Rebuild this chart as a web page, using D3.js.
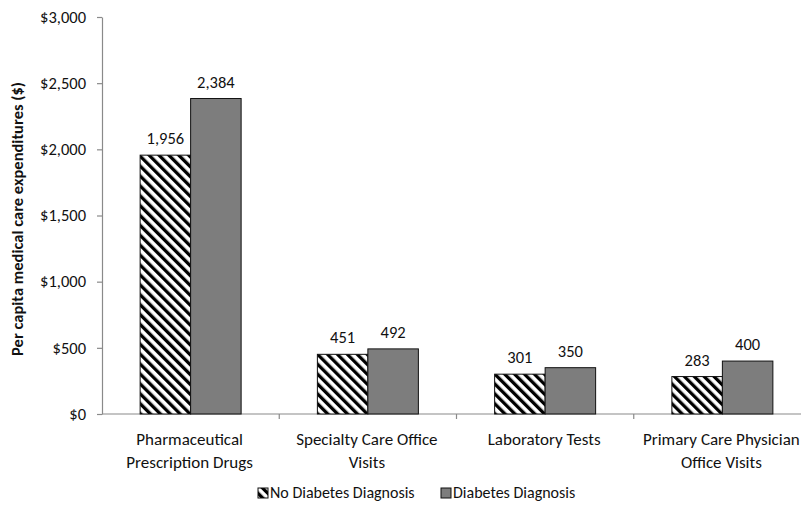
<!DOCTYPE html>
<html>
<head>
<meta charset="utf-8">
<script src="https://cdn.jsdelivr.net/npm/d3@7"></script>
<style>
  html, body { margin: 0; padding: 0; background: #fff; }
  svg text { font-family: Carlito, Lato, "Open Sans", sans-serif; fill: #111; }
</style>
</head>
<body>
<svg id="chart" width="801" height="505"></svg>
<script>
// Per capita medical care expenditures by service type
const categories = [
  ["Pharmaceutical", "Prescription Drugs"],
  ["Specialty Care Office", "Visits"],
  ["Laboratory Tests"],
  ["Primary Care Physician", "Office Visits"]
];
const seriesNames = ["No Diabetes Diagnosis", "Diabetes Diagnosis"];
const noDiabetes = [1956, 451, 301, 283];
const diabetes = [2384, 492, 350, 400];
const yTicks = [0, 500, 1000, 1500, 2000, 2500, 3000];

const svg = d3.select("#chart");
const defs = svg.append("defs");

// diagonal hatch (top-left to bottom-right) for the "no diagnosis" series
const hatch = defs.append("pattern")
  .attr("id", "hatch")
  .attr("patternUnits", "userSpaceOnUse")
  .attr("width", 7).attr("height", 7)
  .attr("patternTransform", "rotate(-45)");
hatch.append("rect").attr("width", 7).attr("height", 7).attr("fill", "#fff");
hatch.append("rect").attr("x", 0).attr("y", 0).attr("width", 3.3).attr("height", 7).attr("fill", "#000");

const plotLeft = 102, plotBottom = 414, plotTop = 17, plotRight = 811;
const keys = categories.map((d, i) => i);

const x0 = d3.scaleBand().domain(keys).range([plotLeft, plotRight]).padding(0);
const groupW = 101;
const x1 = d3.scaleBand().domain([0, 1]).range([0, groupW]).padding(0);
const y = d3.scaleLinear().domain([0, 3000]).range([plotBottom, plotTop]);

// y axis
const yAxis = svg.append("g")
  .attr("transform", `translate(${plotLeft},0)`)
  .call(d3.axisLeft(y).tickValues(yTicks).tickSize(5).tickSizeOuter(0)
    .tickFormat(d => "$" + d3.format(",")(d)));
yAxis.select(".domain").attr("stroke", "#8a8a8a").attr("stroke-width", 1.2);
yAxis.selectAll(".tick line").attr("stroke", "#8a8a8a").attr("stroke-width", 1.2);
yAxis.selectAll(".tick text").attr("x", -16).attr("font-size", 16.5)
  .style("font-family", "Carlito, Lato, sans-serif").attr("fill", "#111");

// x axis
const xAxis = svg.append("g")
  .attr("transform", `translate(0,${plotBottom})`);
xAxis.append("line").attr("x1", plotLeft).attr("x2", 801).attr("y1", 0).attr("y2", 0)
  .attr("stroke", "#8a8a8a").attr("stroke-width", 1.2);
xAxis.selectAll("line.tk").data(keys.slice(1).concat([keys.length]))
  .enter().append("line").attr("class", "tk")
  .attr("x1", d => plotLeft + d * x0.step()).attr("x2", d => plotLeft + d * x0.step())
  .attr("y1", 0).attr("y2", 5)
  .attr("stroke", "#8a8a8a").attr("stroke-width", 1.2);

const groups = svg.append("g").selectAll("g.cat").data(keys).enter().append("g")
  .attr("transform", d => `translate(${x0(d) + (x0.bandwidth() - groupW) / 2},0)`);

const seriesVals = [noDiabetes, diabetes];
const fills = ["url(#hatch)", "#7d7d7d"];

groups.each(function(ci) {
  const g = d3.select(this);
  [0, 1].forEach(si => {
    const v = seriesVals[si][ci];
    g.append("rect")
      .attr("x", x1(si)).attr("y", y(v))
      .attr("width", x1.bandwidth()).attr("height", y(0) - y(v))
      .attr("fill", fills[si]).attr("stroke", "#111").attr("stroke-width", 1);
    g.append("text")
      .attr("x", x1(si) + x1.bandwidth() / 2).attr("y", y(v) - 11)
      .attr("text-anchor", "middle").attr("font-size", 16.5)
      .text(d3.format(",")(v));
  });
});

// category labels
const labels = svg.append("g").selectAll("text.cat").data(keys).enter().append("text")
  .attr("class", "cat")
  .attr("text-anchor", "middle").attr("font-size", 17)
  .attr("x", d => x0(d) + x0.bandwidth() / 2 - 1)
  .attr("y", 445);
labels.each(function(ci) {
  const t = d3.select(this);
  categories[ci].forEach((line, li) => {
    t.append("tspan").attr("x", x0(ci) + x0.bandwidth() / 2 - 1)
      .attr("dy", li === 0 ? 0 : 23).text(line);
  });
});

// y axis title
svg.append("text")
  .attr("transform", "translate(23,219) rotate(-90)")
  .attr("text-anchor", "middle").attr("font-size", 16.5).attr("font-weight", "bold")
  .text("Per capita medical care expenditures ($)");

// legend
const legend = svg.append("g");
const legendX = [258, 441];
seriesNames.forEach((name, i) => {
  legend.append("rect").attr("x", legendX[i]).attr("y", 488)
    .attr("width", 10).attr("height", 10)
    .attr("fill", fills[i]).attr("stroke", "#111").attr("stroke-width", 1);
  legend.append("text").attr("x", legendX[i] + 12).attr("y", 498)
    .attr("font-size", 16).text(name);
});
</script>
</body>
</html>
